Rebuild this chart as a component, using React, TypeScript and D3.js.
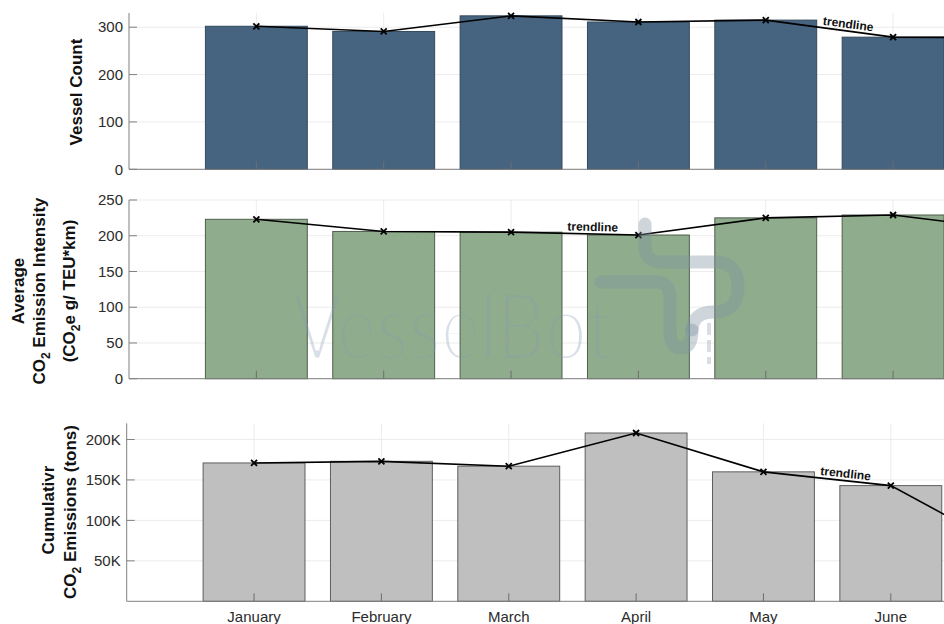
import React from "react";
import * as d3 from "d3";

// Monthly fleet figures (July is partially in view at the right edge)
const months = ["January", "February", "March", "April", "May", "June", "July"];
const vesselCount = [302, 291, 324, 311, 315, 279, 278];
const emissionIntensity = [223, 206, 205, 201, 225, 229, 207];
const cumulativeEmissions = [171000, 173000, 167000, 208000, 160000, 143000, 58000];

const vesselTicks = [0, 100, 200, 300];
const intensityTicks = [0, 50, 100, 150, 200, 250];
const emissionTicks = [50000, 100000, 150000, 200000];

const W = 944;
const H = 624;
const FONT = "'Liberation Sans', Arial, Helvetica, sans-serif";
const STEP = 127.35; // px per month slot

type Panel = {
  values: number[];
  yMax: number;
  ticks: number[];
  fmt: (v: number) => string;
  fill: string;
  edge: string;
  left: number;
  top: number;
  bottom: number;
  labelSeg: number;
  showMonths: boolean;
};

const panels: Panel[] = [
  { values: vesselCount, yMax: 330, ticks: vesselTicks, fmt: (d) => String(d), fill: "#46647f", edge: "#34495c", left: 129, top: 13, bottom: 169.3, labelSeg: 4, showMonths: false },
  { values: emissionIntensity, yMax: 250, ticks: intensityTicks, fmt: (d) => String(d), fill: "#8fac8c", edge: "#4e5e4d", left: 129, top: 200, bottom: 378.7, labelSeg: 2, showMonths: false },
  { values: cumulativeEmissions, yMax: 220000, ticks: emissionTicks, fmt: (d) => `${d / 1000}K`, fill: "#bfbfbf", edge: "#5e5e5e", left: 126.7, top: 423.3, bottom: 601.3, labelSeg: 4, showMonths: true },
];

function BarPanel({ p }: { p: Panel }) {
  const x = d3.scaleLinear().domain([0, 8]).range([p.left, p.left + 8 * STEP]);
  const y = d3.scaleLinear().domain([0, p.yMax]).range([p.bottom, p.top]);
  const half = (x(1) - x(0)) * 0.4;
  const line = d3
    .line<number>()
    .x((_, i) => x(i + 1))
    .y((d) => y(d));

  // trendline caption sits along the chosen segment
  const i = p.labelSeg;
  const x0 = x(i + 1), y0 = y(p.values[i]);
  const x1 = x(i + 2), y1 = y(p.values[i + 1]);
  const ang = Math.atan2(y1 - y0, x1 - x0);
  const t = 0.64;
  const lx = x0 + (x1 - x0) * t + Math.sin(ang) * 3;
  const ly = y0 + (y1 - y0) * t - Math.cos(ang) * 3;

  return (
    <g>
      {/* grid */}
      {p.ticks.map((tk) => (
        <line key={"gy" + tk} x1={p.left} x2={W} y1={y(tk)} y2={y(tk)} stroke="#ececec" strokeWidth={1} />
      ))}
      {months.map((m, k) => (
        <line key={"gx" + m} x1={x(k + 1)} x2={x(k + 1)} y1={p.top} y2={p.bottom} stroke="#ececec" strokeWidth={1} />
      ))}
      {/* bars */}
      {p.values.map((v, k) => (
        <rect
          key={"b" + k}
          x={x(k + 1) - half}
          y={y(v)}
          width={half * 2}
          height={y(0) - y(v)}
          fill={p.fill}
          stroke={p.edge}
          strokeWidth={1}
        />
      ))}
      {/* axes */}
      <line x1={p.left} x2={p.left} y1={p.top} y2={p.bottom} stroke="#808080" strokeWidth={1} />
      <line x1={p.left} x2={W} y1={p.bottom} y2={p.bottom} stroke="#808080" strokeWidth={1} />
      {p.ticks.map((tk) => (
        <g key={"ty" + tk}>
          <line x1={p.left} x2={p.left + 8} y1={y(tk)} y2={y(tk)} stroke="#808080" strokeWidth={1} />
          <text x={p.left - 6} y={y(tk)} dy="0.35em" textAnchor="end" fontFamily={FONT} fontSize={15} fill="#2b2b2b">
            {p.fmt(tk)}
          </text>
        </g>
      ))}
      {months.map((m, k) => (
        <g key={"tx" + m}>
          <line x1={x(k + 1)} x2={x(k + 1)} y1={p.bottom} y2={p.bottom - 8} stroke="#6e6e6e" strokeWidth={1} />
          {p.showMonths && x(k + 1) < W && (
            <text x={x(k + 1)} y={p.bottom + 20.5} textAnchor="middle" fontFamily={FONT} fontSize={15} fill="#2b2b2b">
              {m}
            </text>
          )}
        </g>
      ))}
      {/* trendline */}
      <path d={line(p.values) ?? ""} fill="none" stroke="#000" strokeWidth={1.6} />
      {p.values.map((v, k) => (
        <g key={"mk" + k} transform={`translate(${x(k + 1)},${y(v)})`} stroke="#000" strokeWidth={1.8}>
          <line x1={-3} y1={-3} x2={3} y2={3} />
          <line x1={-3} y1={3} x2={3} y2={-3} />
        </g>
      ))}
      <text
        x={lx}
        y={ly}
        textAnchor="middle"
        fontFamily={FONT}
        fontWeight="bold"
        fontSize={12}
        fill="#111"
        transform={`rotate(${(ang * 180) / Math.PI},${lx},${ly})`}
      >
        trendline
      </text>
    </g>
  );
}

// "CO₂" prefix with a lowered subscript, followed by the rest of the label
function CO2({ rest }: { rest: string }) {
  return (
    <>
      <tspan>CO</tspan>
      <tspan dy={5} fontSize={12}>2</tspan>
      <tspan dy={-5}>{rest}</tspan>
    </>
  );
}

function YLabel({ x, y, children }: { x: number; y: number; children: React.ReactNode }) {
  return (
    <text
      x={x}
      y={y}
      textAnchor="middle"
      fontFamily={FONT}
      fontWeight="bold"
      fontSize={17}
      fill="#111"
      transform={`rotate(-90,${x},${y})`}
    >
      {children}
    </text>
  );
}

export default function App() {
  return (
    <div style={{ position: "absolute", left: 0, top: 0, width: W, height: H, overflow: "hidden", background: "#fff" }}>
      <svg width={W} height={H} viewBox={`0 0 ${W} ${H}`} style={{ display: "block" }}>
        <defs>
          {/* thin the watermark glyphs by eroding their outline */}
          <mask id="wm-thin" maskUnits="userSpaceOnUse" x={0} y={0} width={W} height={H}>
            <text
              x={292}
              y={360}
              fontFamily="Lato, 'Open Sans', sans-serif"
              fontSize={94}
              textLength={321}
              lengthAdjust="spacingAndGlyphs"
              fill="#fff"
              stroke="#000"
              strokeWidth={5}
              paintOrder="fill"
            >
              VesselBot
            </text>
          </mask>
        </defs>
        <rect width={W} height={H} fill="#fff" />
        {panels.map((p, k) => (
          <BarPanel key={k} p={p} />
        ))}

        <YLabel x={81.5} y={92}>Vessel Count</YLabel>

        <YLabel x={24} y={291}>Average</YLabel>
        <YLabel x={45} y={291}>
          <CO2 rest=" Emission Intensity" />
        </YLabel>
        <YLabel x={75} y={291}>
          <tspan>(</tspan>
          <CO2 rest="e g/ TEU*km)" />
        </YLabel>

        <YLabel x={54} y={510}>Cumulativr</YLabel>
        <YLabel x={76} y={512}>
          <CO2 rest=" Emissions (tons)" />
        </YLabel>

        {/* VesselBot watermark */}
        <g pointerEvents="none">
          <rect x={280} y={270} width={350} height={110} fill="#8a9cb0" fillOpacity={0.32} mask="url(#wm-thin)" />
          <g fill="none" stroke="#7f93a3" strokeOpacity={0.38} strokeWidth={13} strokeLinecap="round" strokeLinejoin="round">
            <path d="M645,224 V246 Q645,262 661,262 H716 Q738,262 738,287 Q738,312 714,312 Q693,312 692,330" />
            <path d="M601,282 H656 Q669,282 670,296 V330 Q670,348 681,348 Q692,348 692,330" />
          </g>
          <path d="M709,323 V364" stroke="#7f93a3" strokeOpacity={0.3} strokeWidth={4} strokeDasharray="12 5" />
        </g>
      </svg>
    </div>
  );
}
